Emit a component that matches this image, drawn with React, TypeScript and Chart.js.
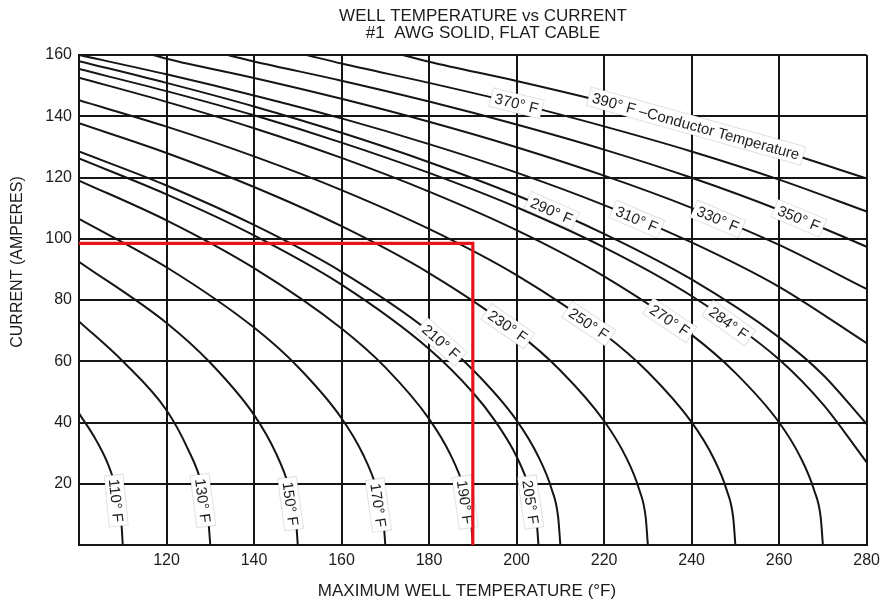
import React, { useEffect, useRef } from 'react';
import { Chart, registerables } from 'chart.js';

Chart.register(...registerables);

// Axis ranges and tick steps
const wellTempRange = [100, 280];
const currentRange = [0, 160];
const tickStep = 20;

// Isotherms: [maximum well temperature °F, current A] for each conductor temperature
const curve110 = [[100, 43], [104, 34], [107, 25], [109, 15], [109.7, 7], [110, 0]];
const curve130 = [[100, 73], [110, 60], [120, 44], [125, 31], [128, 20], [129.5, 9], [130, 0]];
const curve150 = [[100, 92.5], [120, 72.5], [130, 59.5], [140, 42.5], [145, 30], [148, 19], [149.5, 9.5], [150, 0]];
const curve170 = [[100, 106.5], [120, 90.7], [140, 71], [150, 58.2], [160, 41.4], [165, 29.3], [168, 18.6], [169.5, 9.3], [170, 0]];
const curve190 = [[100, 119], [120, 106], [140, 90.4], [160, 70.7], [170, 58], [180, 41.2], [185, 29.2], [188, 18.5], [189.5, 9.3], [190, 0]];
const curve205 = [[100, 126.2], [120, 114.5], [140, 101.1], [160, 85], [180, 64], [190, 49.8], [195, 40.7], [200, 28.9], [203, 18.3], [204.5, 9.2], [205, 0]];
const curve210 = [[100, 128.5], [120, 117.4], [140, 104.5], [160, 89.2], [180, 69.8], [190, 57.2], [200, 40.7], [205, 28.8], [208, 18.3], [209.5, 9.1], [210, 0]];
const curve230 = [[100, 137.7], [120, 128], [140, 116.9], [160, 104.1], [180, 88.8], [200, 69.5], [210, 57], [220, 40.5], [225, 28.7], [228, 18.2], [229.5, 9.1], [230, 0]];
const curve250 = [[100, 145.2], [120, 136.6], [140, 126.9], [160, 115.9], [180, 103.2], [200, 88.1], [220, 68.9], [230, 56.5], [240, 40.1], [245, 28.4], [248, 18], [249.5, 9], [250, 0]];
const curve270 = [[100, 152.6], [120, 144.7], [140, 136.1], [160, 126.4], [180, 115.4], [200, 102.8], [220, 87.7], [240, 68.6], [250, 56.2], [260, 40], [265, 28.3], [268, 17.9], [269.5, 9], [270, 0]];
const curve284 = [[100, 155.4], [120, 148.2], [140, 140.3], [160, 131.4], [180, 121.5], [200, 110.3], [220, 97.2], [240, 81.3], [260, 60.6], [270, 46], [280, 27]];
const curve290 = [[100, 158], [120, 150.9], [140, 143.2], [160, 134.6], [180, 125], [200, 114.2], [220, 101.6], [240, 86.7], [260, 67.8], [270, 55.6], [280, 39.5]];
const curve310 = [[100, 160], [120, 153.7], [140, 146.8], [160, 139.3], [180, 130.9], [200, 121.6], [220, 111], [240, 98.8], [260, 84.3], [280, 65.9]];
const curve330 = [[117, 160], [120, 158.8], [140, 152.5], [160, 145.7], [180, 138.2], [200, 129.9], [220, 120.6], [240, 110.1], [260, 98], [280, 83.6]];
const curve350 = [[134, 160], [140, 157.9], [160, 151.6], [180, 144.8], [200, 137.3], [220, 129.1], [240, 119.9], [260, 109.4], [280, 97.4]];
const curve370 = [[152, 160], [160, 157.2], [180, 150.9], [200, 144.2], [220, 136.7], [240, 128.5], [260, 119.3], [280, 108.9]];
const curve390 = [[174, 160], [180, 157.8], [200, 151.5], [220, 144.7], [240, 137.2], [260, 128.9], [280, 119.7]];

// Worked example: 98.5 A read across to a 190 °F well
const exampleLine = [[100, 98.5], [190, 98.5], [190, 0]];

const curves: [number, number[][]][] = [
  [110, curve110], [130, curve130], [150, curve150], [170, curve170], [190, curve190],
  [205, curve205], [210, curve210], [230, curve230], [250, curve250], [270, curve270],
  [284, curve284], [290, curve290], [310, curve310], [330, curve330], [350, curve350],
  [370, curve370], [390, curve390],
];

// Tag placement: a straight box laid along the chord of the isotherm between two readings
// ('y' = by current near the bottom, 'x' = by well temperature elsewhere)
type Tag = { temp: number; text: string; by: 'x' | 'y'; from: number; to: number };
const tags: Tag[] = [
  { temp: 110, text: '110° F', by: 'y', from: 24, to: 5 },
  { temp: 130, text: '130° F', by: 'y', from: 24, to: 5 },
  { temp: 150, text: '150° F', by: 'y', from: 23, to: 4 },
  { temp: 170, text: '170° F', by: 'y', from: 22, to: 4 },
  { temp: 190, text: '190° F', by: 'y', from: 23, to: 5 },
  { temp: 205, text: '205° F', by: 'y', from: 23, to: 5 },
  { temp: 210, text: '210° F', by: 'x', from: 180.5, to: 185 },
  { temp: 230, text: '230° F', by: 'x', from: 195.5, to: 200.5 },
  { temp: 250, text: '250° F', by: 'x', from: 214, to: 219 },
  { temp: 270, text: '270° F', by: 'x', from: 232.5, to: 237.5 },
  { temp: 284, text: '284° F', by: 'x', from: 246, to: 251 },
  { temp: 290, text: '290° F', by: 'x', from: 205.5, to: 210.5 },
  { temp: 310, text: '310° F', by: 'x', from: 225, to: 230 },
  { temp: 330, text: '330° F', by: 'x', from: 243.5, to: 248.5 },
  { temp: 350, text: '350° F', by: 'x', from: 262, to: 267 },
  { temp: 370, text: '370° F', by: 'x', from: 197.5, to: 202.5 },
  { temp: 390, text: '390° F –Conductor Temperature', by: 'x', from: 210, to: 272 },
];

const FONT = '"Liberation Sans", Arial, Helvetica, sans-serif';
const INK = '#1c1c1c';

function pointOn(pts: number[][], by: 'x' | 'y', v: number): number[] | null {
  const k = by === 'x' ? 0 : 1;
  for (let i = 0; i < pts.length - 1; i++) {
    const a = pts[i];
    const b = pts[i + 1];
    const lo = Math.min(a[k], b[k]);
    const hi = Math.max(a[k], b[k]);
    if (hi > lo && v >= lo && v <= hi) {
      const t = (v - a[k]) / (b[k] - a[k]);
      return [a[0] + t * (b[0] - a[0]), a[1] + t * (b[1] - a[1])];
    }
  }
  return null;
}

const tagPlugin = {
  id: 'isothermTags',
  beforeDatasetDraw(chart: any, args: any) {
    if (args.meta.label !== 'example') return;
    const xs = chart.scales.x;
    const ys = chart.scales.y;
    const ctx = chart.ctx as CanvasRenderingContext2D;
    const px = (p: number[]) => [xs.getPixelForValue(p[0]), ys.getPixelForValue(p[1])];
    for (const tag of tags) {
      const pts = curves.find((c) => c[0] === tag.temp)![1];
      const a = pointOn(pts, tag.by, tag.from);
      const b = pointOn(pts, tag.by, tag.to);
      if (!a || !b) continue;
      const pa = px(a);
      const pb = px(b);
      let ang = Math.atan2(pb[1] - pa[1], pb[0] - pa[0]);
      let cx = (pa[0] + pb[0]) / 2;
      let cy = (pa[1] + pb[1]) / 2;
      if (tag.by === 'x') {
        // keep the box centred on the line itself
        const mid = pointOn(pts, 'x', (tag.from + tag.to) / 2);
        if (mid) {
          const pm = px(mid);
          cx = pm[0];
          cy = pm[1];
        }
      } else {
        // near the foot the isotherms are almost upright: tilt by the lower part only
        const la = pointOn(pts, 'y', 14);
        const lb = pointOn(pts, 'y', 3);
        if (la && lb) {
          const qa = px(la);
          const qb = px(lb);
          ang = Math.atan2(qb[1] - qa[1], qb[0] - qa[0]);
        }
      }
      ctx.save();
      ctx.font = `15px ${FONT}`;
      const w = ctx.measureText(tag.text).width + 8;
      const h = 19;
      ctx.translate(cx, cy);
      ctx.rotate(ang);
      ctx.fillStyle = '#ffffff';
      ctx.fillRect(-w / 2, -h / 2, w, h);
      ctx.strokeStyle = 'rgba(0,0,0,0.12)';
      ctx.lineWidth = 1;
      ctx.strokeRect(-w / 2, -h / 2, w, h);
      ctx.fillStyle = INK;
      ctx.textAlign = 'center';
      ctx.textBaseline = 'middle';
      ctx.fillText(tag.text, 0, 1);
      ctx.restore();
    }
  },
};

const titlePlugin = {
  id: 'chartTitles',
  afterDraw(chart: any) {
    const ctx = chart.ctx as CanvasRenderingContext2D;
    ctx.save();
    ctx.fillStyle = INK;
    ctx.textAlign = 'center';
    ctx.textBaseline = 'middle';
    ctx.font = `17px ${FONT}`;
    ctx.fillText('WELL TEMPERATURE vs CURRENT', 483, 16);
    ctx.fillText('#1  AWG SOLID, FLAT CABLE', 483, 33);
    ctx.fillText('MAXIMUM WELL TEMPERATURE (°F)', 467, 591);
    ctx.translate(18, 262);
    ctx.rotate(-Math.PI / 2);
    ctx.font = `16px ${FONT}`;
    ctx.fillText('CURRENT (AMPERES)', 0, 0);
    ctx.restore();
  },
};

export default function App() {
  const canvasRef = useRef<HTMLCanvasElement | null>(null);

  useEffect(() => {
    const canvas = canvasRef.current;
    if (!canvas) return;

    const datasets: any[] = [
      {
        label: 'example',
        data: exampleLine.map(([x, y]) => ({ x, y })),
        showLine: true,
        borderColor: '#e8141c',
        borderWidth: 3.2,
        pointRadius: 0,
        tension: 0,
      },
      ...curves.map(([temp, pts]) => ({
        label: `${temp}° F`,
        data: pts.map(([x, y]) => ({ x, y })),
        showLine: true,
        borderColor: '#151515',
        borderWidth: 2,
        pointRadius: 0,
        cubicInterpolationMode: 'monotone',
      })),
    ];

    const chart = new Chart(canvas, {
      type: 'scatter',
      data: { datasets },
      plugins: [tagPlugin, titlePlugin],
      options: {
        animation: false,
        responsive: false,
        devicePixelRatio: 1,
        layout: { padding: { top: 55, right: 15, left: 0, bottom: 0 } },
        plugins: {
          legend: { display: false },
          tooltip: { enabled: false },
          title: { display: false },
        },
        scales: {
          x: {
            type: 'linear',
            min: wellTempRange[0],
            max: wellTempRange[1],
            afterFit: (s: any) => { s.height = 57; },
            ticks: {
              stepSize: tickStep,
              padding: 6,
              color: INK,
              font: { family: FONT, size: 16 },
              callback: (v: any) => (v === wellTempRange[0] ? '' : String(v)),
            },
            grid: { color: '#151515', lineWidth: 2, drawTicks: false },
            border: { color: '#151515', width: 2 },
          },
          y: {
            type: 'linear',
            min: currentRange[0],
            max: currentRange[1],
            afterFit: (s: any) => { s.width = 79; },
            ticks: {
              stepSize: tickStep,
              padding: 7,
              color: INK,
              font: { family: FONT, size: 16 },
              callback: (v: any) => (v === currentRange[0] ? '' : String(v)),
            },
            grid: { color: '#151515', lineWidth: 2, drawTicks: false },
            border: { color: '#151515', width: 2 },
          },
        },
      } as any,
    });

    return () => chart.destroy();
  }, []);

  return (
    <div style={{ position: 'fixed', left: 0, top: 0, width: 886, height: 602, background: '#ffffff' }}>
      <canvas ref={canvasRef} width={886} height={602} style={{ width: 886, height: 602, display: 'block' }} />
    </div>
  );
}
